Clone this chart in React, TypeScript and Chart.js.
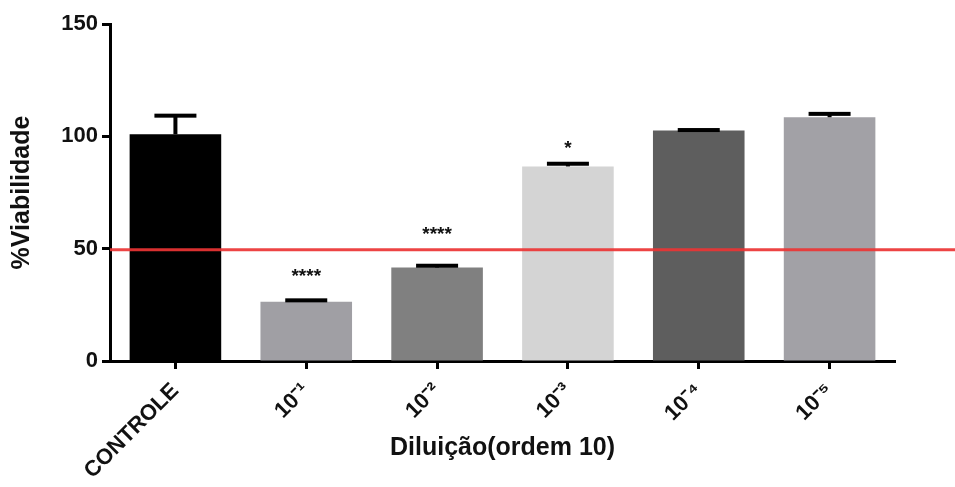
import React, { useEffect, useRef } from 'react';
import { Chart, registerables } from 'chart.js';

Chart.register(...registerables);

const categories = ['CONTROLE', '10⁻¹', '10⁻²', '10⁻³', '10⁻⁴', '10⁻⁵'];
const viabilidade = [100.9, 26.4, 41.6, 86.6, 102.6, 108.5];
const erroSuperior = [8.3, 0.6, 0.8, 1.2, 0.2, 1.5];
const barColors = ['#000000', '#a09fa4', '#808080', '#d4d4d4', '#5e5e5e', '#a2a1a6'];
const significancia = ['', '****', '****', '*', '', ''];
const significanciaY = [0, 36.9, 55.2, 93.5, 0, 0];
const linhaReferencia = 49.5;
const yTicks = [0, 50, 100, 150];

const FONT = "'Liberation Sans', Arial, Helvetica, sans-serif";

const overlayPlugin = {
  id: 'overlay',
  afterDatasetsDraw(chart: any) {
    const { ctx, scales } = chart;
    const meta = chart.getDatasetMeta(0);
    const y = scales.y;
    ctx.save();
    // error bars (upper only)
    meta.data.forEach((bar: any, i: number) => {
      const x = bar.x;
      const top = y.getPixelForValue(viabilidade[i]);
      const hi = y.getPixelForValue(viabilidade[i] + erroSuperior[i]);
      ctx.fillStyle = '#000';
      ctx.fillRect(x - 2, hi, 4, top - hi);
      ctx.fillRect(x - 21, hi - 2, 42, 4);
    });
    // significance marks
    ctx.fillStyle = '#111';
    ctx.font = `bold 19px ${FONT}`;
    ctx.textAlign = 'center';
    ctx.textBaseline = 'alphabetic';
    meta.data.forEach((bar: any, i: number) => {
      const s = significancia[i];
      if (!s) return;
      const m = ctx.measureText(s);
      const cy = y.getPixelForValue(significanciaY[i]);
      const h = m.actualBoundingBoxAscent - m.actualBoundingBoxDescent;
      const base = cy + m.actualBoundingBoxAscent - h / 2;
      ctx.fillText(s, bar.x, base);
    });
    // reference line
    const ry = y.getPixelForValue(linhaReferencia);
    ctx.strokeStyle = 'rgba(236,52,52,0.92)';
    ctx.lineWidth = 3;
    ctx.beginPath();
    ctx.moveTo(chart.chartArea.left, ry);
    ctx.lineTo(chart.width, ry);
    ctx.stroke();
    ctx.restore();
  },
};

export default function App() {
  const canvasRef = useRef<HTMLCanvasElement | null>(null);

  useEffect(() => {
    document.body.style.margin = '0';
    const canvas = canvasRef.current;
    if (!canvas) return;
    const chart = new Chart(canvas, {
      type: 'bar',
      data: {
        labels: categories,
        datasets: [
          {
            data: viabilidade,
            backgroundColor: barColors,
            borderWidth: 0,
            categoryPercentage: 1,
            barPercentage: 0.7,
          },
        ],
      },
      options: {
        animation: false,
        responsive: true,
        maintainAspectRatio: false,
        layout: { padding: { left: 0, right: 60, top: 24, bottom: 0 } },
        plugins: {
          legend: { display: false },
          tooltip: { enabled: false },
        },
        scales: {
          x: {
            grid: {
              display: true,
              offset: false,
              drawOnChartArea: false,
              drawTicks: true,
              tickLength: 8,
              tickWidth: 3,
              tickColor: '#000',
            },
            border: { display: true, color: '#000', width: 3 },
            ticks: {
              color: '#111',
              font: { family: FONT, size: 22, weight: 'bold' },
              minRotation: 45,
              maxRotation: 45,
              autoSkip: false,
              padding: 9,
            },
            title: {
              display: true,
              text: 'Diluição(ordem 10)',
              color: '#111',
              font: { family: FONT, size: 25, weight: 'bold' },
              padding: { top: 0, bottom: 24 },
            },
            afterFit(scale: any) {
              scale.height = 126;
            },
          },
          y: {
            min: 0,
            max: 150,
            grid: {
              display: true,
              drawOnChartArea: false,
              drawTicks: true,
              tickLength: 8,
              tickWidth: 3,
              tickColor: '#000',
            },
            border: { display: true, color: '#000', width: 3 },
            ticks: {
              color: '#111',
              font: { family: FONT, size: 22, weight: 'bold' },
              padding: 4,
            },
            afterBuildTicks(scale: any) {
              scale.ticks = yTicks.map((v) => ({ value: v }));
            },
            title: {
              display: true,
              text: '%Viabilidade',
              color: '#111',
              font: { family: FONT, size: 25, weight: 'bold' },
              padding: { top: 7, bottom: 0 },
            },
            afterFit(scale: any) {
              scale.width = 110;
            },
          },
        },
      },
      plugins: [overlayPlugin],
    });
    return () => chart.destroy();
  }, []);

  return (
    <div style={{ position: 'relative', width: '955px', height: '487px' }}>
      <canvas ref={canvasRef} />
    </div>
  );
}
